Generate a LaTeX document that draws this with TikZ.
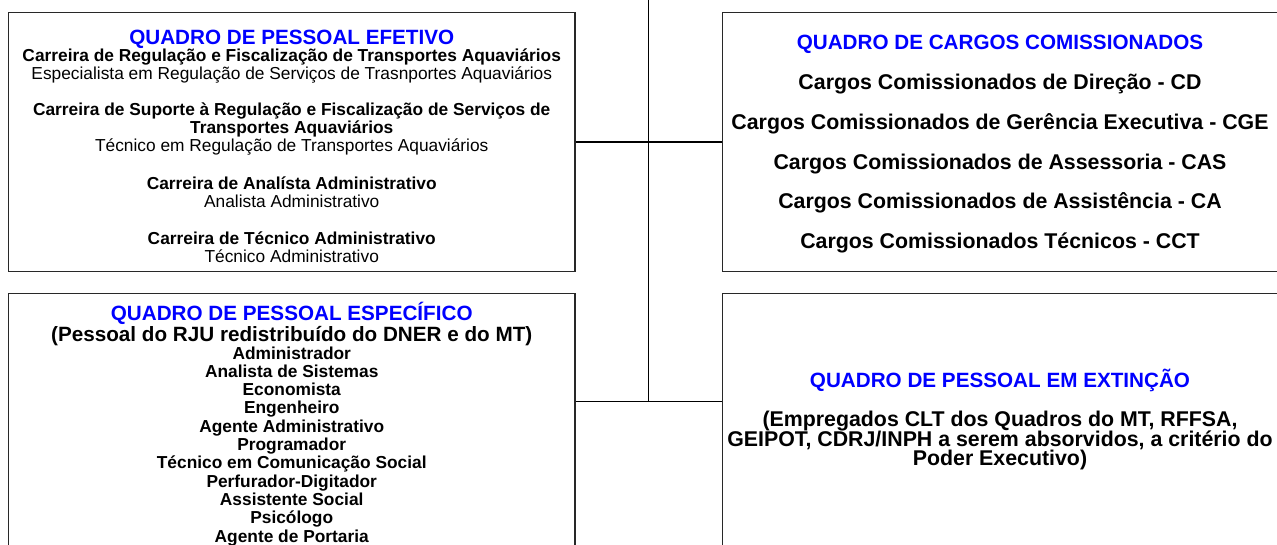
\documentclass[tikz,border=0pt]{standalone}
\usepackage{fontspec}
\setmainfont{Liberation Sans}
\usetikzlibrary{fit}

\tikzset{
  quadro/.style={draw={rgb,255:red,40;green,40;blue,40}, line width=0.9pt, inner sep=0pt},
  liga/.style={draw=black, line width=0.8pt},
  titulo/.style={anchor=base, inner sep=0pt, text={rgb,255:red,0;green,0;blue,255}, font=\fontsize{15.5}{16}\selectfont\bfseries},
  cargo/.style={anchor=base, inner sep=0pt, font=\fontsize{13}{14}\selectfont\bfseries},
  nome/.style={anchor=base, inner sep=0pt, font=\fontsize{13}{14}\selectfont},
  grande/.style={anchor=base, inner sep=0pt, font=\fontsize{16}{17}\selectfont\bfseries},
}

\begin{document}
\begin{tikzpicture}[x=0.75pt,y=0.75pt,yscale=-1,xscale=1]
\useasboundingbox (0,0) rectangle (1277,545);
\clip (0,0) rectangle (1277,545);

% Shape: Rectangle [efetivo]
\node [quadro, fit={(8.5,12.7) (575,271.3)}] (efetivo) {};
% Shape: Rectangle [comissionados]
\node [quadro, fit={(722.7,12.7) (1278,271.3)}] (comissionados) {};
% Shape: Rectangle [especifico]
\node [quadro, fit={(8.5,293.3) (575,560)}] (especifico) {};
% Shape: Rectangle [extincao]
\node [quadro, fit={(722.7,293.3) (1278,560)}] (extincao) {};

% Straight Lines
\coordinate (topo) at (648.7,-5);
\coordinate (juncao) at (648.7,401.3);
\draw [liga] (topo) -- (juncao);
\draw [liga] (efetivo.east) -- (comissionados.west);
\draw [liga] (especifico.east |- juncao) -- (extincao.west |- juncao);

% Quadro de pessoal efetivo
\draw (291.75,44.5) node (efT) [titulo] {QUADRO DE PESSOAL EFETIVO};
\draw (291.75,61.5) node (efA) [cargo] {Carreira de Regulação e Fiscalização de Transportes Aquaviários};
\draw (291.75,79.3) node (efB) [nome] {Especialista em Regulação de Serviços de Trasnportes Aquaviários};
\draw (291.75,115.5) node (efC) [cargo] {Carreira de Suporte à Regulação e Fiscalização de Serviços de};
\draw (291.75,133.3) node (efD) [cargo] {Transportes Aquaviários};
\draw (291.75,151.7) node (efE) [nome] {Técnico em Regulação de Transportes Aquaviários};
\draw (291.75,189.5) node (efF) [cargo] {Carreira de Analísta Administrativo};
\draw (291.75,207.5) node (efG) [nome] {Analista Administrativo};
\draw (291.75,244.5) node (efH) [cargo] {Carreira de Técnico Administrativo};
\draw (291.75,262.5) node (efI) [nome] {Técnico Administrativo};

% Quadro de pessoal especifico
\draw (291.75,320) node (esT) [titulo] {QUADRO DE PESSOAL ESPECÍFICO};
\draw (291.75,341.7) node (esA) [grande, font=\fontsize{15.5}{16}\selectfont\bfseries] {(Pessoal do RJU redistribuído do DNER e do MT)};
\draw (291.75,359) node (es1) [cargo] {Administrador};
\draw (291.75,377.3) node (es2) [cargo] {Analista de Sistemas};
\draw (291.75,395.6) node (es3) [cargo] {Economista};
\draw (291.75,413.9) node (es4) [cargo] {Engenheiro};
\draw (291.75,432.2) node (es5) [cargo] {Agente Administrativo};
\draw (291.75,450.5) node (es6) [cargo] {Programador};
\draw (291.75,468.8) node (es7) [cargo] {Técnico em Comunicação Social};
\draw (291.75,487.1) node (es8) [cargo] {Perfurador-Digitador};
\draw (291.75,505.4) node (es9) [cargo] {Assistente Social};
\draw (291.75,523.7) node (es10) [cargo] {Psicólogo};
\draw (291.75,542) node (es11) [cargo] {Agente de Portaria};

% Quadro de cargos comissionados
\draw (1000,49.5) node (cmT) [titulo] {QUADRO DE CARGOS COMISSIONADOS};
\draw (1000,90) node (cm1) [grande] {Cargos Comissionados de Direção - CD};
\draw (1000,129.8) node (cm2) [grande] {Cargos Comissionados de Gerência Executiva - CGE};
\draw (1000,169.3) node (cm3) [grande] {Cargos Comissionados de Assessoria - CAS};
\draw (1000,208.8) node (cm4) [grande] {Cargos Comissionados de Assistência - CA};
\draw (1000,248.3) node (cm5) [grande] {Cargos Comissionados Técnicos - CCT};

% Quadro de pessoal em extincao
\draw (1000,387) node (exT) [titulo] {QUADRO DE PESSOAL EM EXTINÇÃO};
\draw (1000,426.5) node (exA) [grande] {(Empregados CLT dos Quadros do MT, RFFSA,};
\draw (1000,446) node (exB) [grande] {GEIPOT, CDRJ/INPH a serem absorvidos, a critério do};
\draw (1000,465.5) node (exC) [grande] {Poder Executivo)};

\end{tikzpicture}
\end{document}
